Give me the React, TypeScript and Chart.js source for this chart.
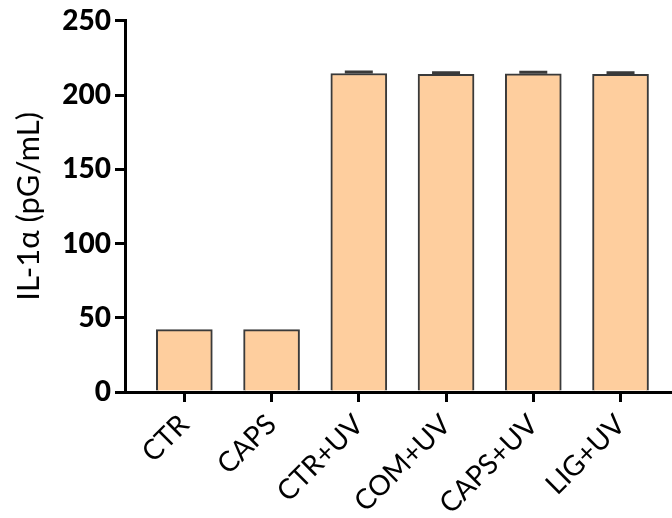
import React, { useEffect, useRef } from "react";
import { Chart, registerables } from "chart.js";

Chart.register(...registerables);

const categories = ["CTR", "CAPS", "CTR+UV", "COM+UV", "CAPS+UV", "LIG+UV"];
const values = [42, 42, 214.5, 214, 214.3, 214];
const errors = [0, 0, 1, 1, 1, 1];
const yTicks = [0, 50, 100, 150, 200, 250];

const FILL = "#FECE9E";
const EDGE = "#3a3a3a";
const FONT = "Lato, 'Open Sans', sans-serif";

const errorBarPlugin = {
  id: "errorBars",
  afterDatasetsDraw(chart: any) {
    const meta = chart.getDatasetMeta(0);
    const yScale = chart.scales.y;
    const ctx = chart.ctx;
    ctx.save();
    ctx.strokeStyle = EDGE;
    ctx.lineWidth = 3;
    meta.data.forEach((bar: any, i: number) => {
      const e = errors[i];
      if (!e) return;
      const yTop = yScale.getPixelForValue(values[i] + e);
      const yVal = yScale.getPixelForValue(values[i]);
      ctx.beginPath();
      ctx.moveTo(bar.x, yVal);
      ctx.lineTo(bar.x, yTop);
      ctx.moveTo(bar.x - 14, yTop);
      ctx.lineTo(bar.x + 14, yTop);
      ctx.stroke();
    });
    ctx.restore();
  },
};

export default function App() {
  const ref = useRef<HTMLCanvasElement>(null);
  useEffect(() => {
    if (!ref.current) return;
    const chart = new Chart(ref.current, {
      type: "bar",
      data: {
        datasets: [
          {
            data: values.map((v, i) => ({ x: i, y: v })),
            backgroundColor: FILL,
            borderColor: EDGE,
            borderWidth: 2,
            borderSkipped: "bottom",
            barThickness: 56,
          },
        ],
      },
      options: {
        animation: false,
        responsive: false,
        maintainAspectRatio: false,
        layout: { padding: { top: 12, right: 0, left: 0, bottom: 0 } },
        plugins: { legend: { display: false }, tooltip: { enabled: false } },
        scales: {
          x: {
            type: "linear",
            offset: false,
            min: -0.68,
            max: 5.59,
            afterBuildTicks: (s: any) => {
              s.ticks = categories.map((_, i) => ({ value: i }));
            },
            afterFit: (s: any) => {
              s.height = 126;
            },
            ticks: {
              callback: (v: any) => categories[v as number] ?? "",
              maxRotation: 45,
              minRotation: 45,
              autoSkip: false,
              color: "#000",
              font: { family: FONT, size: 28 },
              padding: 6,
            },
            grid: {
              display: true,
              offset: false,
              drawOnChartArea: false,
              drawTicks: true,
              tickLength: 10,
              lineWidth: 3,
              color: "#000",
            },
            border: { display: true, width: 3, color: "#000" },
          },
          y: {
            min: 0,
            max: 250,
            afterBuildTicks: (s: any) => {
              s.ticks = yTicks.map((v) => ({ value: v }));
            },
            afterFit: (s: any) => {
              s.width = 125;
            },
            ticks: {
              color: "#000",
              font: { family: FONT, size: 28, weight: "900" },
              padding: 4,
            },
            grid: {
              display: true,
              drawOnChartArea: false,
              drawTicks: true,
              tickLength: 10,
              lineWidth: 3,
              color: "#000",
            },
            border: { display: true, width: 3, color: "#000" },
            title: {
              display: true,
              text: "IL-1α (pG/mL)",
              color: "#000",
              font: { family: FONT, size: 31 },
              padding: { top: 10, bottom: 4 },
            },
          },
        },
      },
      plugins: [errorBarPlugin],
    });
    return () => chart.destroy();
  }, []);
  return (
    <div style={{ position: "fixed", left: 0, top: 0, width: 672, height: 518, background: "#fff" }}>
      <canvas ref={ref} width={672} height={518} />
    </div>
  );
}
